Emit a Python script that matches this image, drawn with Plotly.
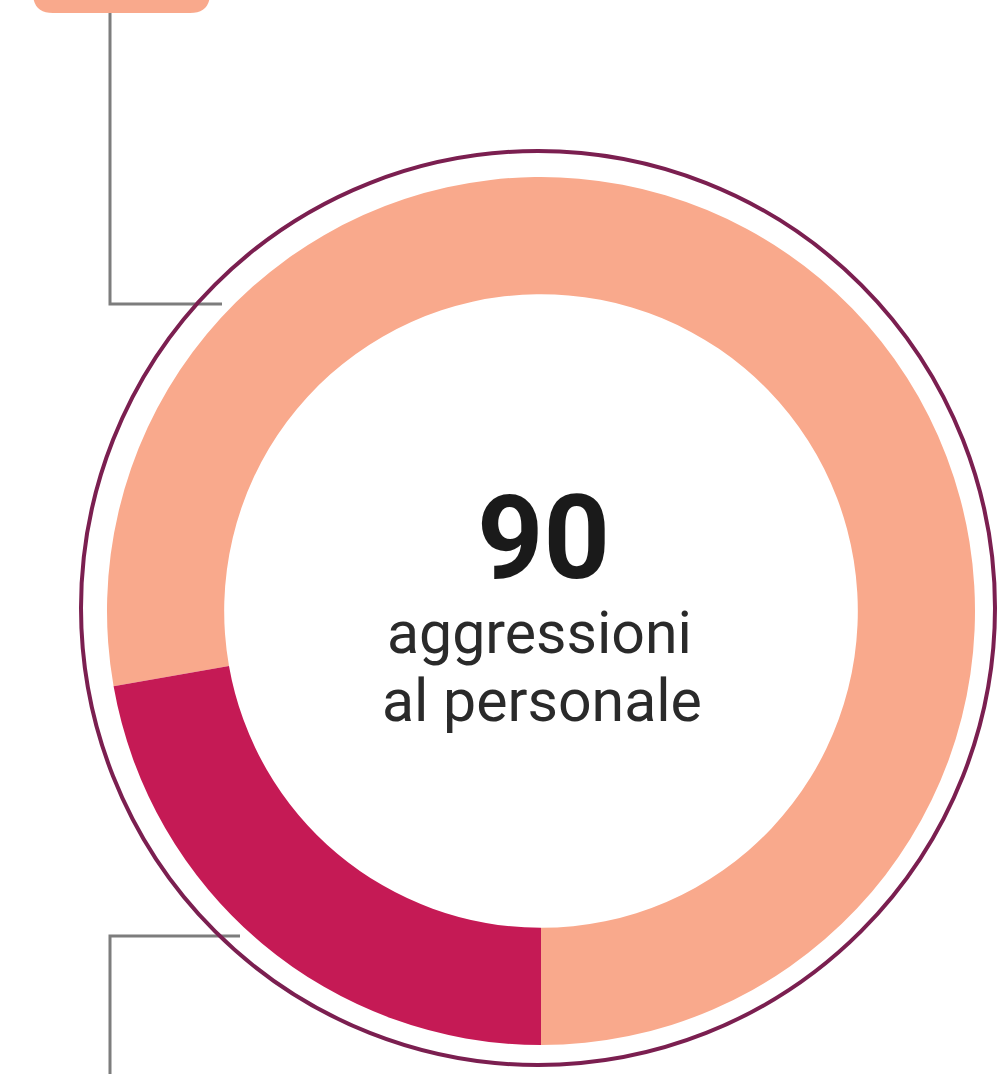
import plotly.graph_objects as go

# Data
categories = ["Salmone", "Cremisi"]
values = [70, 20]
colors = ["#F9A98C", "#C51A55"]
total_label = "90"
center_caption = ["aggressioni", "al personale"]

W, H = 998, 1074

# Donut geometry (pixels)
cx, cy, r = 541, 611, 434

fig = go.Figure()
fig.add_trace(go.Pie(
    labels=categories,
    values=values,
    hole=0.73,
    sort=False,
    direction="clockwise",
    rotation=260,
    marker=dict(colors=colors, line=dict(width=0)),
    textinfo="none",
    showlegend=False,
    domain=dict(x=[(cx - r) / W, (cx + r) / W],
                y=[(H - cy - r) / H, (H - cy + r) / H]),
))

# invisible pixel-space axes for decoration
fig.update_xaxes(range=[0, W], visible=False, fixedrange=True)
fig.update_yaxes(range=[H, 0], visible=False, fixedrange=True)

line_col = "#7d7d7d"
rc_x, rc_y, rr = 538, 608, 457
shapes = [
    # outer ring
    dict(type="circle", xref="x", yref="y", x0=rc_x - rr, x1=rc_x + rr,
         y0=rc_y - rr, y1=rc_y + rr, line=dict(color="#7B1F50", width=4),
         fillcolor="rgba(0,0,0,0)", layer="above"),
    # top label box (cut by the top edge)
    dict(type="path", xref="x", yref="y",
         path="M 33,-40 L 210,-40 L 210,-7 Q 210,13 190,13 L 53,13 Q 33,13 33,-7 Z",
         fillcolor="#F9A98C", line=dict(width=0), layer="below"),
    # top connector
    dict(type="path", xref="x", yref="y",
         path="M 110,13 L 110,304 L 222,304",
         line=dict(color=line_col, width=3), layer="below"),
    # bottom connector
    dict(type="path", xref="x", yref="y",
         path="M 240,936 L 110,936 L 110,1080",
         line=dict(color=line_col, width=3), layer="below"),
]

font_fam = "Liberation Sans Narrow, Arial Narrow, Roboto"
annotations = [
    dict(x=543, y=538, xref="x", yref="y", text="<b>" + total_label + "</b>",
         showarrow=False, xanchor="center", yanchor="middle",
         font=dict(family=font_fam, size=116, color="#1a1a1a")),
    dict(x=539, y=632, xref="x", yref="y", text=center_caption[0],
         showarrow=False, xanchor="center", yanchor="middle",
         font=dict(family=font_fam, size=59, color="#2a2a2a")),
    dict(x=542, y=700, xref="x", yref="y", text=center_caption[1],
         showarrow=False, xanchor="center", yanchor="middle",
         font=dict(family=font_fam, size=59, color="#2a2a2a")),
]

fig.update_layout(
    width=W, height=H,
    margin=dict(l=0, r=0, t=0, b=0),
    paper_bgcolor="white", plot_bgcolor="white",
    shapes=shapes, annotations=annotations,
)

fig.write_html("out.html", config=dict(displayModeBar=False))
